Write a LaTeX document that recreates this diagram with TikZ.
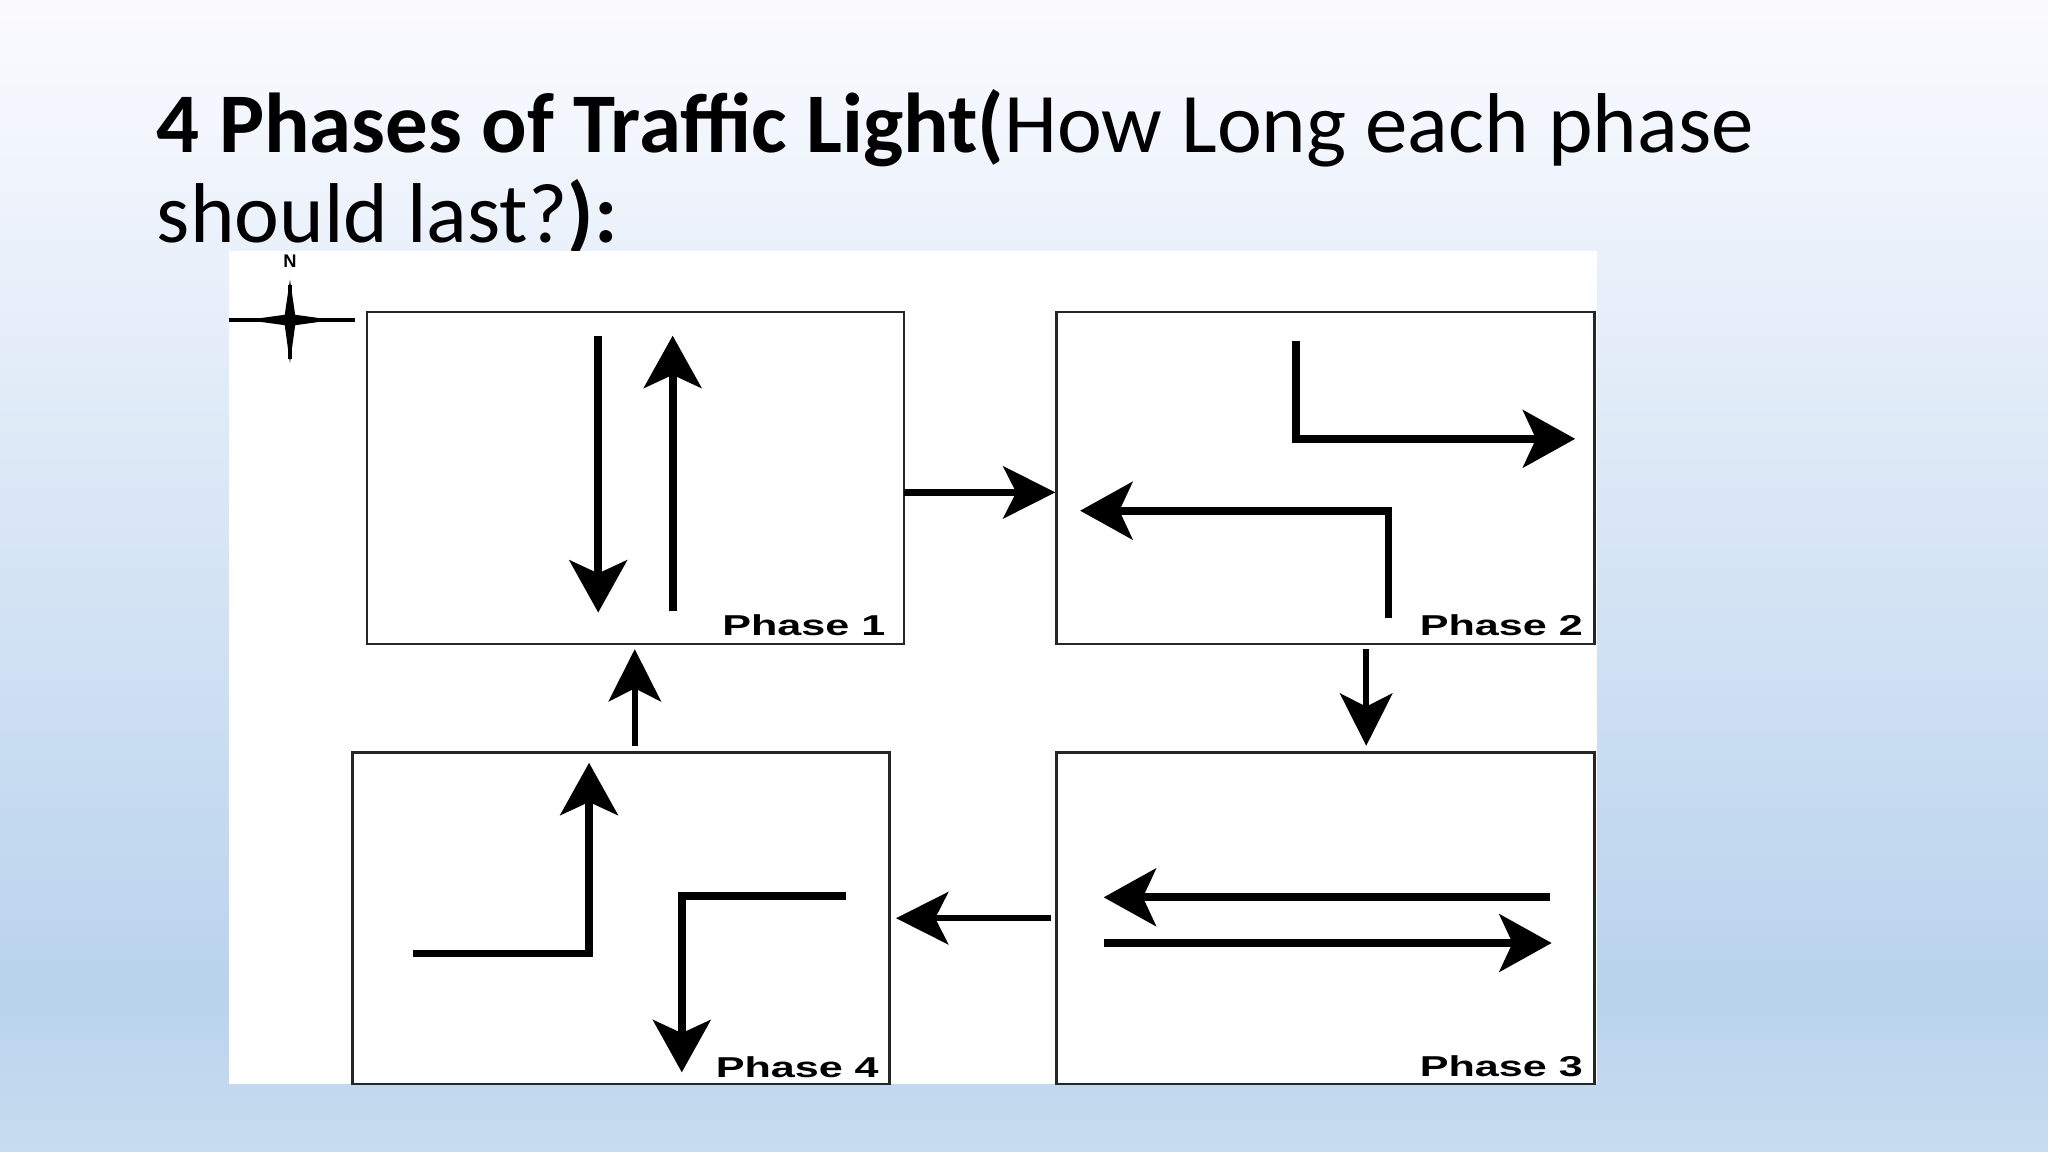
\documentclass[tikz,border=0pt]{standalone}
\usepackage{fontspec}
\usepackage{graphicx}
\setmainfont{Carlito}
\newfontfamily\lab{Liberation Sans}
\usetikzlibrary{arrows.meta}
\begin{document}
\begin{tikzpicture}[x=1pt,y=-1pt,
  box/.style={draw=black!85,line width=2pt},
  big/.style={line width=6pt,-{Stealth[length=40pt,width=44pt,inset=10pt]}},
  con/.style={line width=5pt,-{Stealth[length=40pt,width=40pt,inset=10pt]}},
  plab/.style={font=\lab\bfseries\fontsize{22}{22}\selectfont,anchor=south east,inner sep=0pt}]
\shade[top color=white!96!blue!40,bottom color={rgb,255:red,185;green,211;blue,237}] (0,0) rectangle (1568,760);
\shade[top color={rgb,255:red,185;green,211;blue,237},bottom color={rgb,255:red,200;green,220;blue,240}] (0,760) rectangle (1568,882);
\useasboundingbox (0,0) rectangle (1568,882);
\node[anchor=base west,inner sep=0pt,font=\fontsize{65}{69}\selectfont] (t1) at (120,117) {\textbf{4 Phases of Traffic Light(}How Long each phase};
\node[anchor=base west,inner sep=0pt,font=\fontsize{65}{69}\selectfont] (t2) at (120,186) {should last?\textbf{):}};
\fill[white] (175,192) rectangle (1223,830);
% compass
\node[font=\lab\bfseries\fontsize{14}{14}\selectfont,inner sep=0pt] (N) at (222,200) {N};
\draw[line width=2.5pt] (175,245) -- (272,245);
\draw[line width=2.5pt] (222,218) -- (222,275);
\fill (222,214) -- (226,241) -- (255,245) -- (226,249) -- (222,278) -- (218,249) -- (189,245) -- (218,241) -- cycle;
% boxes
\draw[box] (281,239) rectangle (692,493);
\draw[box] (809,239) rectangle (1221,493);
\draw[box] (809,576) rectangle (1221,830);
\draw[box] (270,576) rectangle (681,830);
\node[plab] (l1) at (678,487) {\scalebox{1.5}[1]{Phase 1}};
\node[plab] (l2) at (1212,487) {\scalebox{1.5}[1]{Phase 2}};
\node[plab] (l3) at (1212,825) {\scalebox{1.5}[1]{Phase 3}};
\node[plab] (l4) at (673,825) {\scalebox{1.5}[1]{Phase 4}};
% phase 1
\draw[big] (458,257) -- (458,469);
\draw[big] (515,468) -- (515,257);
% phase 2
\draw[big] (992,261) -- (992,336) -- (1206,336);
\draw[big] (1063,473) -- (1063,391) -- (827,391);
% phase 3
\draw[big] (1187,687) -- (845,687);
\draw[big] (845,722) -- (1188,722);
% phase 4
\draw[big] (316,730) -- (451,730) -- (451,584);
\draw[big] (648,686) -- (522,686) -- (522,821);
% connectors
\draw[con] (692,377) -- (808,377);
\draw[con] (1046,497) -- (1046,571);
\draw[con] (805,703) -- (686,703);
\draw[con] (486,571) -- (486,497);
\end{tikzpicture}
\end{document}
